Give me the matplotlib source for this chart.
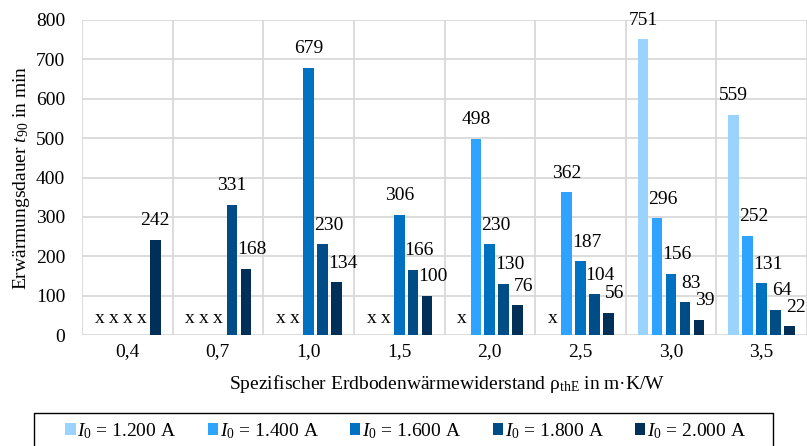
import numpy as np
import matplotlib
matplotlib.use("Agg")
import matplotlib.pyplot as plt
from matplotlib.patches import Rectangle

plt.rcParams['font.family'] = ['Liberation Serif', 'DejaVu Serif']
plt.rcParams['mathtext.fontset'] = 'custom'
plt.rcParams['mathtext.rm'] = 'Liberation Serif'
plt.rcParams['mathtext.it'] = 'Liberation Serif:italic'

# --- data ---
categories = ['0,4', '0,7', '1,0', '1,5', '2,0', '2,5', '3,0', '3,5']
series_names = [r'$\mathit{I}_0$ = 1.200 A', r'$\mathit{I}_0$ = 1.400 A',
                r'$\mathit{I}_0$ = 1.600 A', r'$\mathit{I}_0$ = 1.800 A',
                r'$\mathit{I}_0$ = 2.000 A']
nan = np.nan
i_1200 = [nan, nan, nan, nan, nan, nan, 751, 559]
i_1400 = [nan, nan, nan, nan, 498, 362, 296, 252]
i_1600 = [nan, nan, 679, 306, 230, 187, 156, 131]
i_1800 = [nan, 331, 230, 166, 130, 104, 83, 64]
i_2000 = [242, 168, 134, 100, 76, 56, 39, 22]
series = [i_1200, i_1400, i_1600, i_1800, i_2000]
colors = ['#9BD3FF', '#2EA3FF', '#0070C0', '#004C87', '#003058']

MISSING_Y = 43  # height of the "x" markers for missing runs

W, H = 807, 446
fig = plt.figure(figsize=(W / 100, H / 100), dpi=100)
ax = fig.add_axes([82 / W, 1 - 335 / H, 725 / W, 315 / H])

x = np.arange(len(categories))
pitch = 0.154
width = 0.118
fs = 14

for k, (vals, col, name) in enumerate(zip(series, colors, series_names)):
    pos = x + (k - 2) * pitch
    ax.bar(pos, vals, width, color=col, label=name, zorder=3)

# value labels and "x" for missing bars
for g in range(len(categories)):
    first = True
    for k, vals in enumerate(series):
        xp = x[g] + (k - 2) * pitch
        v = vals[g]
        if np.isnan(v):
            ax.text(xp, MISSING_Y, 'x', ha='center', va='center', fontsize=fs, zorder=4)
            continue
        dx = 0 if first else 6
        first = False
        ax.annotate(f'{int(v)}', (xp, v), xytext=(dx, 19), textcoords='offset pixels',
                    ha='center', va='center', fontsize=fs, zorder=4)

ax.set_xlim(-0.5, len(categories) - 0.5)
ax.set_ylim(0, 800)
ax.set_yticks(np.arange(0, 801, 100))
ax.set_xticks(x)
ax.set_xticklabels(categories)
ax.set_xticks(np.arange(-0.5, len(categories), 1), minor=True)
ax.tick_params(axis='both', which='both', length=0, labelsize=fs)
ax.tick_params(axis='y', pad=12)
ax.tick_params(axis='x', pad=6)
ax.grid(axis='y', which='major', color='#D9D9D9', linewidth=1.3, zorder=0)
ax.grid(axis='x', which='minor', color='#D9D9D9', linewidth=1.3, zorder=0)
ax.grid(axis='x', which='major', visible=False)
for s in ax.spines.values():
    s.set_visible(False)

ax.set_ylabel(r'Erwärmungsdauer $\mathit{t}_{90}$ in min', fontsize=fs)
ax.yaxis.set_label_coords(-0.069, 0.5)
ax.text(0.503, -0.156, r'Spezifischer Erdbodenwärmewiderstand ρ$_{\mathrm{thE}}$ in m·K/W',
        transform=ax.transAxes, ha='center', va='center', fontsize=fs)

# legend frame runs off the bottom edge
fig.patches.append(Rectangle((34 / W, -10 / H), 739 / W, (33 + 10) / H,
                             transform=fig.transFigure, fill=False,
                             edgecolor='black', linewidth=1.0))
fig.legend(loc='center', bbox_to_anchor=(406 / W, 1 - 431 / H), ncol=5, fontsize=fs,
           frameon=False, handlelength=0.52, handleheight=0.55, handletextpad=0.1,
           columnspacing=1.6, borderpad=0, borderaxespad=0)

fig.savefig('out.png', dpi=100)
